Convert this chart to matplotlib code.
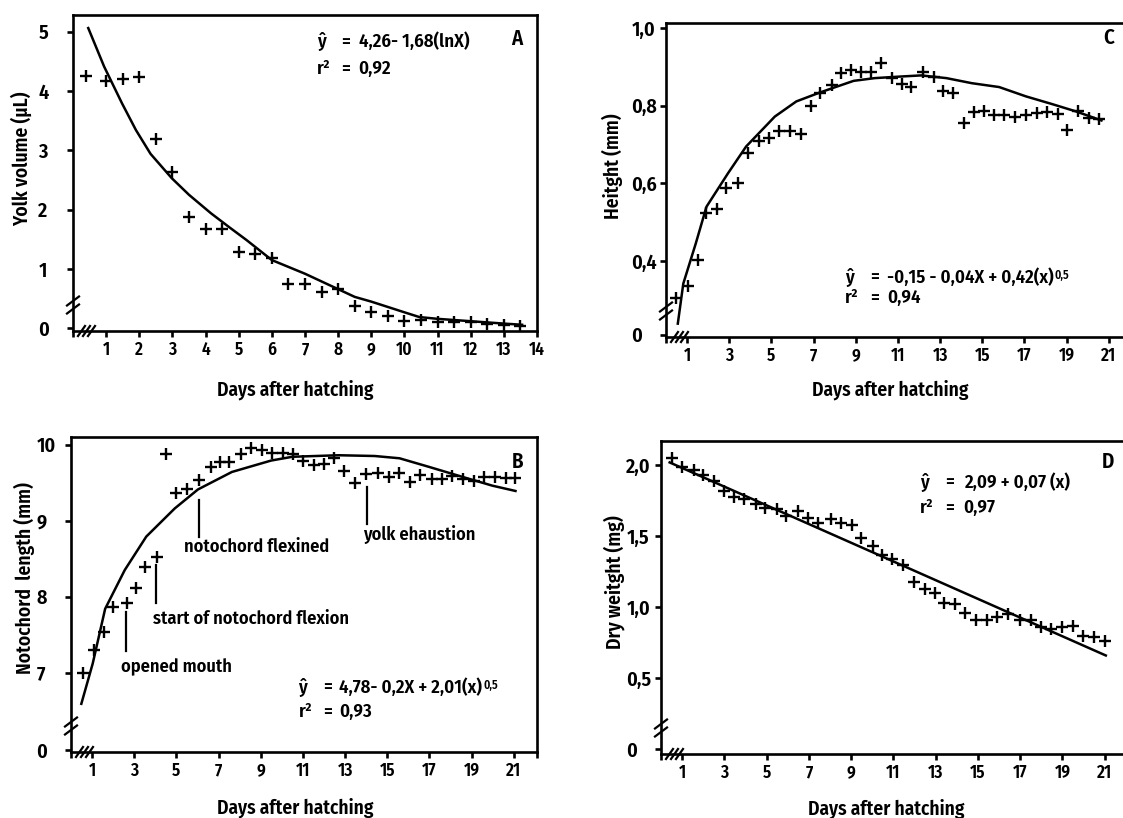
import numpy as np
import matplotlib
matplotlib.use("Agg")
import matplotlib.pyplot as plt
from matplotlib.transforms import offset_copy

plt.rcParams['font.family'] = ['Fira Sans Condensed', 'DejaVu Sans']
plt.rcParams['font.weight'] = 600
plt.rcParams['axes.labelweight'] = 600

# ---- data ----
# A: yolk volume
a_x = [0.4, 1, 1.5, 2, 2.5, 3, 3.5, 4, 4.5, 5, 5.5, 6, 6.5, 7, 7.5, 8, 8.5, 9, 9.5,
       10, 10.5, 11, 11.5, 12, 12.5, 13, 13.5]
a_y = [4.25, 4.16, 4.2, 4.23, 3.19, 2.64, 1.88, 1.67, 1.67, 1.29, 1.26, 1.18, 0.74,
       0.74, 0.62, 0.66, 0.37, 0.28, 0.21, 0.13, 0.14, 0.11, 0.11, 0.10, 0.07, 0.06, 0.04]
a_fit_x = [0.46, 0.94, 1.48, 1.9, 2.34, 2.98, 3.5, 4.16, 4.7, 5.23, 6.0, 7.0, 8.0, 8.5,
           9.0, 9.5, 10.0, 10.45, 11.0, 12.0, 13.0, 13.55]
a_fit_y = [5.06, 4.41, 3.79, 3.34, 2.94, 2.53, 2.25, 1.94, 1.71, 1.49, 1.15, 0.92, 0.66,
           0.53, 0.45, 0.36, 0.27, 0.19, 0.16, 0.12, 0.08, 0.06]

# C: height
c_x = [0.48, 1.02, 1.5, 1.92, 2.43, 2.86, 3.4, 3.91, 4.39, 4.87, 5.38, 5.89, 6.4, 6.89,
       7.32, 7.85, 8.3, 8.77, 9.24, 9.72, 10.21, 10.72, 11.2, 11.63, 12.17, 12.7, 13.16,
       13.63, 14.14, 14.6, 15.08, 15.54, 16.05, 16.53, 17.07, 17.58, 18.06, 18.57, 19.03,
       19.54, 20.05, 20.53]
c_y = [0.305, 0.335, 0.402, 0.523, 0.533, 0.587, 0.6, 0.679, 0.71, 0.716, 0.736, 0.736,
       0.727, 0.798, 0.832, 0.854, 0.884, 0.891, 0.888, 0.888, 0.911, 0.871, 0.856, 0.848,
       0.886, 0.874, 0.837, 0.832, 0.755, 0.785, 0.787, 0.776, 0.776, 0.772, 0.776, 0.781,
       0.785, 0.778, 0.738, 0.787, 0.768, 0.765]
c_fit_x = [0.56, 0.82, 1.41, 1.92, 2.43, 2.94, 3.8, 5.16, 6.18, 7.2, 7.88, 8.9, 9.9, 11.1,
           12.1, 13.3, 14.5, 15.8, 17.07, 18.26, 19.46, 20.65]
c_fit_y = [0.239, 0.342, 0.445, 0.54, 0.583, 0.626, 0.695, 0.772, 0.811, 0.832, 0.845,
           0.864, 0.871, 0.875, 0.878, 0.871, 0.858, 0.848, 0.824, 0.805, 0.785, 0.762]

# B: notochord length
b_x = [0.56, 1.07, 1.57, 2.01, 2.64, 3.06, 3.52, 4.08, 4.5, 5.0, 5.52, 6.06, 6.62, 7.07,
       7.51, 8.05, 8.53, 9.04, 9.54, 10.05, 10.54, 11.02, 11.52, 12.0, 12.49, 12.96, 13.47,
       13.98, 14.57, 15.08, 15.55, 16.06, 16.57, 17.1, 17.61, 18.09, 18.6, 19.09, 19.61,
       20.12, 20.63, 21.08]
b_y = [7.0, 7.3, 7.54, 7.87, 7.91, 8.11, 8.39, 8.52, 9.88, 9.36, 9.42, 9.53, 9.71, 9.77,
       9.77, 9.88, 9.96, 9.93, 9.89, 9.89, 9.87, 9.79, 9.73, 9.75, 9.82, 9.65, 9.49, 9.61,
       9.62, 9.58, 9.62, 9.51, 9.6, 9.55, 9.55, 9.59, 9.55, 9.52, 9.57, 9.57, 9.56, 9.56]
b_fit_x = [0.49, 1.03, 1.62, 2.55, 3.57, 4.92, 6.02, 7.63, 9.49, 10.5, 12.7, 14.4, 15.58,
           16.94, 18.63, 19.98, 21.08]
b_fit_y = [6.59, 7.12, 7.84, 8.35, 8.79, 9.16, 9.41, 9.64, 9.79, 9.84, 9.86, 9.85, 9.82,
           9.71, 9.57, 9.46, 9.39]
b_events = ["opened mouth", "start of notochord flexion", "notochord flexined", "yolk ehaustion"]
b_event_x = [2.59, 4.03, 6.06, 14.03]
b_event_top = [7.80, 8.41, 9.27, 9.44]
b_event_bottom = [7.29, 7.91, 8.79, 8.96]
b_label_x = [2.35, 3.87, 5.35, 13.86]
b_label_y = [7.07, 7.71, 8.65, 8.81]

# D: dry weight
d_x = [0.53, 1.0, 1.55, 1.97, 2.53, 2.96, 3.47, 3.94, 4.49, 4.94, 5.5, 5.93, 6.47, 6.95,
       7.43, 8.05, 8.51, 9.02, 9.47, 10.01, 10.48, 10.94, 11.45, 11.96, 12.47, 12.95, 13.41,
       13.92, 14.39, 14.9, 15.41, 15.92, 16.43, 16.98, 17.49, 17.96, 18.47, 18.96, 19.49,
       19.99, 20.5, 21.02]
d_y = [2.05, 1.99, 1.97, 1.93, 1.89, 1.82, 1.78, 1.76, 1.73, 1.7, 1.69, 1.64, 1.68, 1.63,
       1.59, 1.62, 1.59, 1.58, 1.49, 1.43, 1.37, 1.34, 1.3, 1.18, 1.13, 1.1, 1.03, 1.02,
       0.96, 0.91, 0.91, 0.93, 0.95, 0.91, 0.91, 0.86, 0.85, 0.86, 0.87, 0.8, 0.79, 0.76]
d_fit_x = [0.41, 21.05]
d_fit_y = [2.02, 0.66]

W, H = 1123, 818
fig = plt.figure(figsize=(W / 100, H / 100), dpi=100)


def add_axes(left, top, right, bottom):
    return fig.add_axes([left / W, 1 - bottom / H, (right - left) / W, (bottom - top) / H])


def broken(b, z):
    # values under b squeezed so that 0 lands at z
    k = (b - z) / b

    def fwd(y):
        y = np.asarray(y, dtype=float)
        return np.where(y >= b, y, b - (b - y) * k)

    def inv(v):
        v = np.asarray(v, dtype=float)
        return np.where(v >= b, v, b - (b - v) / k)
    return fwd, inv


def style(ax, xt, xl, yt, yl):
    for s in ax.spines.values():
        s.set_linewidth(1.9)
    ax.set_xticks(xt, xl)
    ax.set_yticks(yt, yl)
    ax.tick_params(direction='out', length=4.5, width=1.9, top=False, right=False)
    ax.tick_params(axis='x', labelsize=12.5, pad=3)
    ax.tick_params(axis='y', labelsize=14.5, pad=20.5)
    for t in ax.get_yticklabels():
        t.set_horizontalalignment('left')


def breaks(ax):
    bb = ax.get_position()
    wpx, hpx = bb.width * W, bb.height * H
    for yc in (22, 30):
        ax.plot([-6 / wpx, 6 / wpx], [(yc - 4.5) / hpx, (yc + 4.5) / hpx],
                transform=ax.transAxes, clip_on=False, color='k', lw=1.6)
    for xc in (8.5, 13.5, 18.5):
        ax.plot([(xc - 3.5) / wpx, (xc + 3.5) / wpx], [-5 / hpx, 5 / hpx],
                transform=ax.transAxes, clip_on=False, color='k', lw=1.6)


def equation(ax, x, y1, y2, rhs, r2, sup=None, o1=25, o2=42):
    kw = dict(va='center', ha='left', fontsize=13.5)
    t1 = None
    for y, lhs, r in [(y1, 'ŷ', rhs), (y2, 'r²', r2)]:
        ax.text(x, y, lhs, transform=ax.transAxes, **kw)
        ax.text(x, y, '=', transform=offset_copy(ax.transAxes, fig=fig, x=o1, y=0, units='dots'), **kw)
        t = ax.text(x, y, r, transform=offset_copy(ax.transAxes, fig=fig, x=o2, y=0, units='dots'), **kw)
        if t1 is None:
            t1 = t
    if sup:
        ax.annotate(sup, xy=(1, 1), xycoords=t1, xytext=(1, -1), textcoords='offset points',
                    va='top', ha='left', fontsize=8.5)


def draw_points(ax, x, y, fx, fy):
    ax.plot(fx, fy, color='k', lw=1.8)
    ax.plot(x, y, ls='none', marker='+', ms=8, mew=1.7, color='k')


odd_ticks = [0] + list(range(1, 22, 2))
odd_labels = [''] + [str(v) for v in range(1, 22, 2)]
lab_kw = dict(fontsize=14)

# ---- A ----
axA = add_axes(73, 15, 537, 331)
draw_points(axA, a_x, a_y, a_fit_x, a_fit_y)
axA.set_xlim(0, 14)
axA.set_ylim(-0.045, 5.28)
style(axA, list(range(0, 15)), [''] + [str(v) for v in range(1, 15)],
      [0, 1, 2, 3, 4, 5], ['0', '1', '2', '3', '4', '5'])
axA.set_ylabel('Yolk volume (µL)', **lab_kw)
axA.yaxis.set_label_coords(-0.087, 0.544)
axA.set_xlabel('Days after hatching', **lab_kw)
axA.xaxis.set_label_coords(0.48, -0.155)
equation(axA, 0.525, 0.916, 0.831, '4,26- 1,68(lnX)', '0,92')
axA.text(0.956, 0.923, 'A', transform=axA.transAxes, ha='center', va='center', fontsize=15)
breaks(axA)

# ---- C ----
axC = add_axes(666, 23, 666 + 466, 337)
fwdC, invC = broken(0.23, 0.2107)
axC.set_yscale('function', functions=(fwdC, invC))
draw_points(axC, c_x, c_y, c_fit_x, c_fit_y)
axC.set_xlim(0, 22.1)
axC.set_ylim(float(invC(0.2046)), 1.0129)
style(axC, odd_ticks, odd_labels, [0, 0.4, 0.6, 0.8, 1.0], ['0', '0,4', '0,6', '0,8', '1,0'])
axC.set_ylabel('Heitght (mm)', **lab_kw)
axC.yaxis.set_label_coords(-0.092, 0.545)
axC.set_xlabel('Days after hatching', **lab_kw)
axC.xaxis.set_label_coords(0.482, -0.137)
equation(axC, 0.384, 0.191, 0.124, '-0,15 - 0,04X + 0,42(x)', '0,94', sup='0,5')
axC.text(0.95, 0.952, 'C', transform=axC.transAxes, ha='center', va='center', fontsize=15)
breaks(axC)

# ---- B ----
axB = add_axes(71, 437, 537, 752)
fwdB, invB = broken(6.4, 5.978)
axB.set_yscale('function', functions=(fwdB, invB))
draw_points(axB, b_x, b_y, b_fit_x, b_fit_y)
for lab, ex, et, eb, lx, ly in zip(b_events, b_event_x, b_event_top, b_event_bottom,
                                   b_label_x, b_label_y):
    axB.plot([ex, ex], [eb, et], color='k', lw=1.6)
    axB.text(lx, ly, lab, ha='left', va='center', fontsize=13.2)
axB.set_xlim(0, 22.1)
axB.set_ylim(float(invB(5.956)), 10.1)
style(axB, odd_ticks + [22.1], odd_labels + [''], [0, 7, 8, 9, 10], ['0', '7', '8', '9', '10'])
axB.set_ylabel('Notochord  length (mm)', **lab_kw)
axB.yaxis.set_label_coords(-0.077, 0.552)
axB.set_xlabel('Days after hatching', **lab_kw)
axB.xaxis.set_label_coords(0.482, -0.146)
equation(axB, 0.488, 0.206, 0.127, '4,78- 0,2X + 2,01(x)', '0,93', sup='0,5', o1=25, o2=41)
axB.text(0.958, 0.92, 'B', transform=axB.transAxes, ha='center', va='center', fontsize=15)
breaks(axB)

# ---- D ----
axD = add_axes(661, 441, 661 + 467, 754)
draw_points(axD, d_x, d_y, d_fit_x, d_fit_y)
axD.set_xlim(0, 22.1)
axD.set_ylim(-0.034, 2.171)
style(axD, odd_ticks, odd_labels, [0, 0.5, 1.0, 1.5, 2.0], ['0', '0,5', '1,0', '1,5', '2,0'])
axD.set_ylabel('Dry weitght (mg)', **lab_kw)
axD.yaxis.set_label_coords(-0.077, 0.55)
axD.set_xlabel('Days after hatching', **lab_kw)
axD.xaxis.set_label_coords(0.482, -0.141)
equation(axD, 0.554, 0.869, 0.786, '2,09 + 0,07 (x)', '0,97', o1=25, o2=44)
axD.text(0.958, 0.933, 'D', transform=axD.transAxes, ha='center', va='center', fontsize=15)
breaks(axD)

fig.savefig('out.png', dpi=100)
